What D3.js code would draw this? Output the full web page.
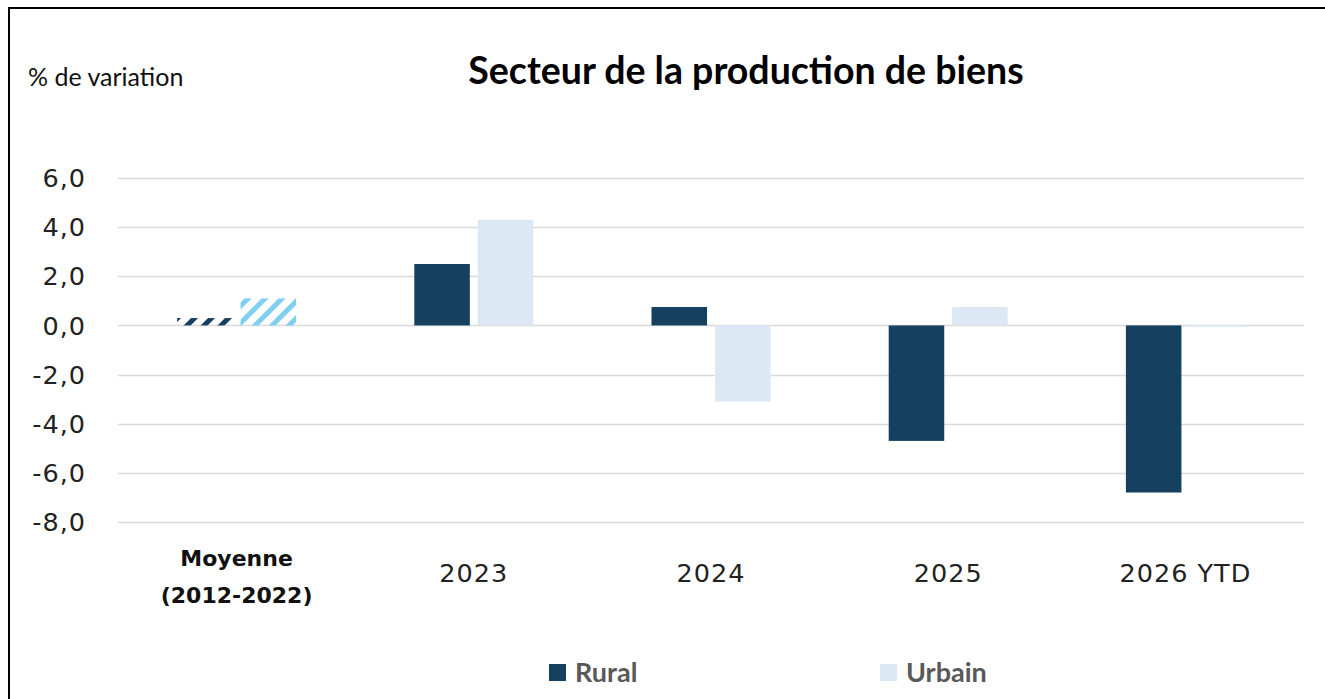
<html>
<head>
<script src="https://d3js.org/d3.v7.min.js"></script>
<style>
  body { margin: 0; background: #fff; }
  text { font-family: Lato, "Noto Sans", sans-serif; }
  .geo { font-family: "DejaVu Sans", sans-serif; }
</style>
</head>
<body>
<svg id="chart" width="1325" height="699"></svg>
<script>
var categories = ["Moyenne (2012-2022)", "2023", "2024", "2025", "2026 YTD"];
var rural = [0.3, 2.5, 0.75, -4.7, -6.8];
var urbain = [1.1, 4.3, -3.1, 0.75, -0.05];
var yTicks = [6, 4, 2, 0, -2, -4, -6, -8];

var darkBlue = "#16405f";
var lightBlue = "#dce8f4";

var svg = d3.select("#chart");

// frame
svg.append("path")
  .attr("d", "M9,699 V8 H1325")
  .attr("fill", "none")
  .attr("stroke", "#000")
  .attr("stroke-width", 2);

// hatch patterns for the average
var defs = svg.append("defs");
function hatch(id, color) {
  var p = defs.append("pattern")
    .attr("id", id)
    .attr("patternUnits", "userSpaceOnUse")
    .attr("width", 12).attr("height", 12)
    .attr("patternTransform", "rotate(45)");
  p.append("rect").attr("width", 5).attr("height", 12).attr("fill", color);
}
hatch("hatchRural", darkBlue);
hatch("hatchUrbain", "#7fd0f0");

var y = d3.scaleLinear().domain([-8, 6]).range([522, 178]);
var x = d3.scaleBand().domain(categories).range([118, 1304]);
var sub = d3.scaleBand().domain(["rural", "urbain"]).range([0, 119]).paddingInner(0.125);

// gridlines
svg.selectAll(".grid")
  .data(yTicks)
  .enter().append("line")
  .attr("x1", 118).attr("x2", 1304)
  .attr("y1", function(d){ return Math.round(y(d)) + 0.5; })
  .attr("y2", function(d){ return Math.round(y(d)) + 0.5; })
  .attr("stroke", "#d9d9d9")
  .attr("stroke-width", 1.5);

// y tick labels
svg.selectAll(".ytick")
  .data(yTicks)
  .enter().append("text")
  .attr("class", "geo")
  .attr("x", 86)
  .attr("y", function(d){ return y(d); })
  .attr("dy", "0.36em")
  .attr("text-anchor", "end")
  .attr("font-size", 25.5)
  .attr("letter-spacing", 1)
  .attr("fill", "#222")
  .text(function(d){ return d3.format(".1f")(d).replace(".", ",").replace("−", "-"); });

// bars
function bars(vals, key, color, hatchId) {
  svg.selectAll(".bar-" + key)
    .data(vals)
    .enter().append("rect")
    .attr("x", function(d, i){ return x(categories[i]) + (x.bandwidth() - 119) / 2 + sub(key); })
    .attr("width", sub.bandwidth())
    .attr("y", function(d){ return y(Math.max(0, d)); })
    .attr("height", function(d){ return Math.max(1, Math.abs(y(d) - y(0))); })
    .attr("fill", function(d, i){ return i === 0 ? "url(#" + hatchId + ")" : color; });
}
bars(rural, "rural", darkBlue, "hatchRural");
bars(urbain, "urbain", lightBlue, "hatchUrbain");

// category labels
categories.forEach(function(c, i) {
  var cx = x(c) + x.bandwidth() / 2;
  if (i === 0) {
    var t = svg.append("text")
      .attr("class", "geo")
      .attr("x", cx).attr("text-anchor", "middle")
      .attr("font-size", 22).attr("font-weight", "bold").attr("fill", "#111");
    t.append("tspan").attr("x", cx).attr("y", 566).text("Moyenne");
    t.append("tspan").attr("x", cx).attr("y", 603).text("(2012-2022)");
  } else {
    svg.append("text")
      .attr("class", "geo")
      .attr("x", cx).attr("y", 582)
      .attr("text-anchor", "middle")
      .attr("font-size", 25.5).attr("letter-spacing", 1).attr("fill", "#222")
      .text(c);
  }
});

// title and axis caption
svg.append("text")
  .attr("x", 746).attr("y", 84)
  .attr("text-anchor", "middle")
  .attr("font-size", 37.5).attr("font-weight", "bold").attr("fill", "#000")
  .text("Secteur de la production de biens");

svg.append("text")
  .attr("x", 28).attr("y", 86)
  .attr("font-size", 25).attr("fill", "#111")
  .text("% de variation");

// legend
var legend = [{name: "Rural", color: darkBlue, x: 549}, {name: "Urbain", color: lightBlue, x: 880}];
legend.forEach(function(l) {
  svg.append("rect").attr("x", l.x).attr("y", 664).attr("width", 17).attr("height", 17).attr("fill", l.color);
  svg.append("text").attr("x", l.x + 26).attr("y", 682)
    .attr("font-size", 27).attr("font-weight", "bold").attr("fill", "#595959")
    .text(l.name);
});
</script>
</body>
</html>
